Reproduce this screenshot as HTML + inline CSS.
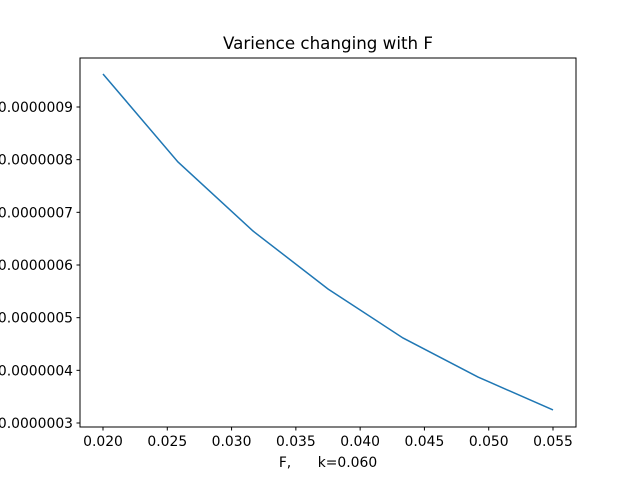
<!DOCTYPE html>
<html><head><meta charset="utf-8"><style>
html,body{margin:0;padding:0;background:#fff;}
svg{display:block;font-family:"DejaVu Sans","Liberation Sans",sans-serif;}
</style></head><body>
<svg id="chart" width="640" height="480" viewBox="0 0 640 480">
<rect x="0" y="0" width="640" height="480" fill="#fff"/>
<text x="328" y="49" font-size="16.7" text-anchor="middle">Varience changing with F</text>
<g id="plot"></g>
<rect x="80" y="58" width="496" height="369" fill="none" stroke="#000" stroke-width="1"/>
<text x="328" y="467" font-size="13.9" text-anchor="middle" xml:space="preserve">F,      k=0.060</text>
</svg>
<script>
const fValues = [0.020, 0.02583, 0.03167, 0.0375, 0.04333, 0.04917, 0.055];
const varValues = [9.627e-7, 7.956e-7, 6.645e-7, 5.544e-7, 4.615e-7, 3.873e-7, 3.247e-7];
const xTicks = [0.020, 0.025, 0.030, 0.035, 0.040, 0.045, 0.050, 0.055];
const xTickLabels = ["0.020","0.025","0.030","0.035","0.040","0.045","0.050","0.055"];
const yTicks = [3e-7, 4e-7, 5e-7, 6e-7, 7e-7, 8e-7, 9e-7];
const yTickLabels = ["0.0000003","0.0000004","0.0000005","0.0000006","0.0000007","0.0000008","0.0000009"];

const NS = "http://www.w3.org/2000/svg";
const g = document.getElementById('plot');
function xs(v){ return 103 + (v - 0.020) / 0.035 * 450; }
function ys(v){ return 423 - (v - 3e-7) / 6e-7 * 316; }

xTicks.forEach((t, i) => {
  const l = document.createElementNS(NS, 'line');
  l.setAttribute('x1', xs(t)); l.setAttribute('x2', xs(t));
  l.setAttribute('y1', 427); l.setAttribute('y2', 430.5);
  l.setAttribute('stroke', '#000');
  
  
  g.appendChild(l);
  const tx = document.createElementNS(NS, 'text');
  tx.setAttribute('x', xs(t)); tx.setAttribute('y', 446);
  tx.setAttribute('font-size', '13.9'); tx.setAttribute('text-anchor', 'middle');
  tx.textContent = xTickLabels[i];
  
  
  g.appendChild(tx);
});
yTicks.forEach((t, i) => {
  const l = document.createElementNS(NS, 'line');
  l.setAttribute('x1', 76.5); l.setAttribute('x2', 80);
  l.setAttribute('y1', ys(t)); l.setAttribute('y2', ys(t));
  l.setAttribute('stroke', '#000');
  
  
  g.appendChild(l);
  const tx = document.createElementNS(NS, 'text');
  tx.setAttribute('x', 73); tx.setAttribute('y', ys(t) + 5);
  tx.setAttribute('font-size', '13.9'); tx.setAttribute('text-anchor', 'end');
  tx.textContent = yTickLabels[i];
  
  
  g.appendChild(tx);
});
const pl = document.createElementNS(NS, 'polyline');
pl.setAttribute('points', fValues.map((f, i) => xs(f) + ',' + ys(varValues[i])).join(' '));
pl.setAttribute('fill', 'none');
pl.setAttribute('stroke', '#1f77b4');
pl.setAttribute('stroke-width', '1.5');


g.appendChild(pl);
</script>
</body></html>
